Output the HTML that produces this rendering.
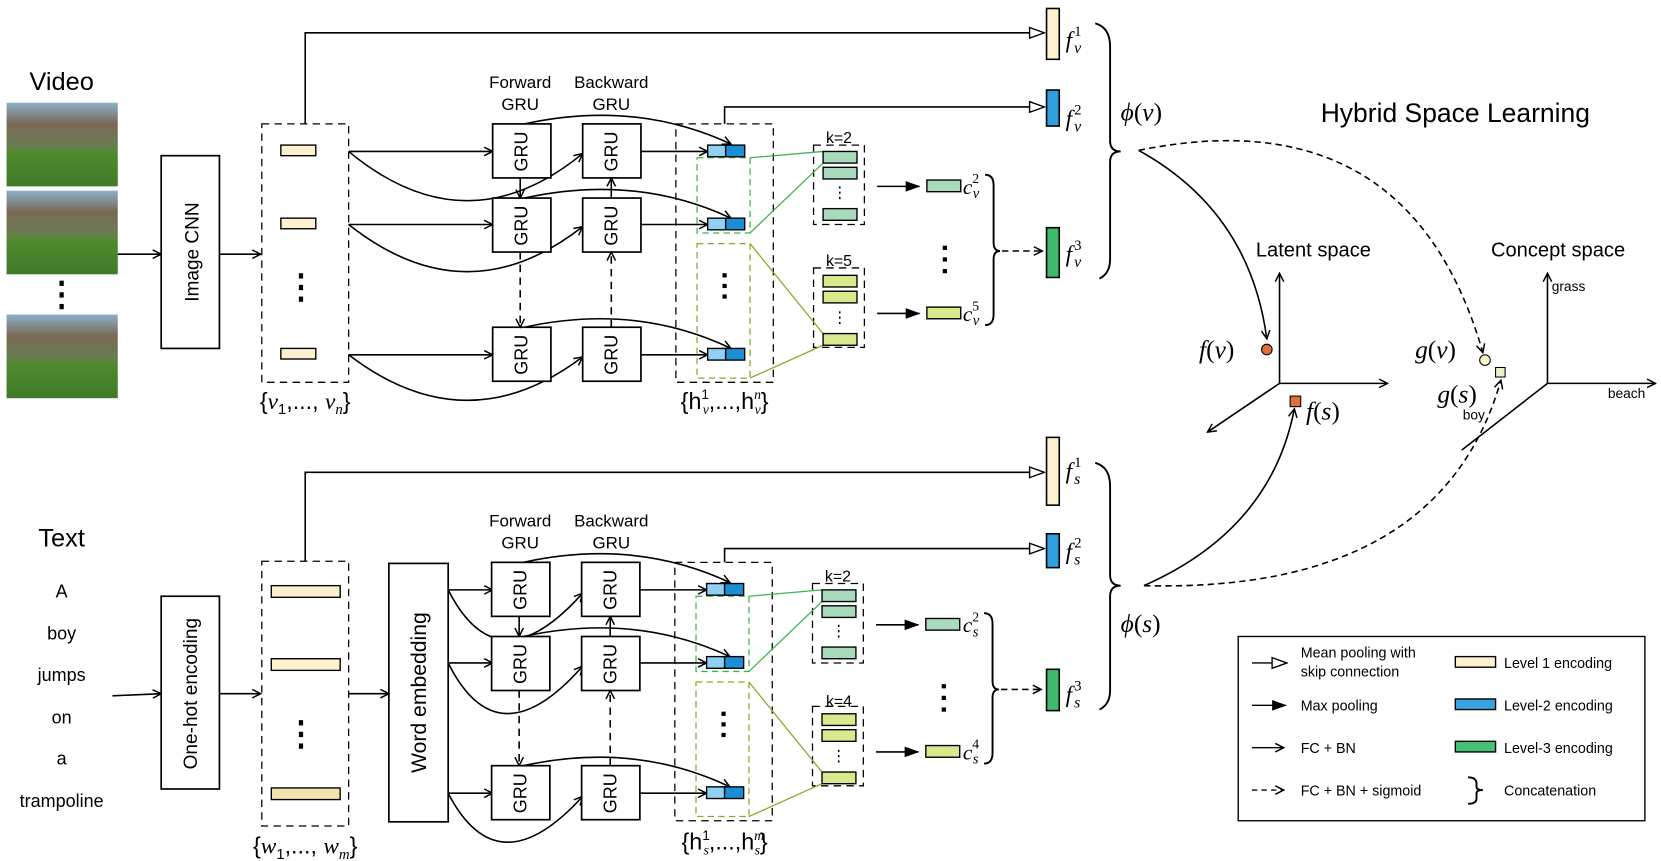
<!DOCTYPE html>
<html><head><meta charset="utf-8"><style>
html,body{margin:0;padding:0;background:#fff;}
svg{display:block;}
text{font-family:"Liberation Sans",sans-serif;fill:#000;}
.m{font-family:"Liberation Serif",serif;font-style:italic;}
</style></head><body>
<svg width="1661" height="861" viewBox="0 0 1568 813" xmlns="http://www.w3.org/2000/svg">
<defs>
<marker id="hol" markerWidth="16" markerHeight="12" refX="14" refY="6" orient="auto" markerUnits="userSpaceOnUse"><path d="M1,1 L15,6 L1,11 z" fill="#fff" stroke="#000" stroke-width="1.3"/></marker>
<marker id="sol" markerWidth="14" markerHeight="12" refX="13" refY="6" orient="auto" markerUnits="userSpaceOnUse"><path d="M0,1 L14,6 L0,11 z" fill="#000"/></marker>
<marker id="opn" markerWidth="10" markerHeight="10" refX="9" refY="5" orient="auto" markerUnits="userSpaceOnUse"><path d="M1,1 L9,5 L1,9" fill="none" stroke="#000" stroke-width="1.4"/></marker>
<linearGradient id="img" x1="0" y1="0" x2="0" y2="1"><stop offset="0" stop-color="#8bb0c8"/><stop offset="0.25" stop-color="#7a6a58"/><stop offset="0.5" stop-color="#6b7a50"/><stop offset="0.6" stop-color="#4e8a2e"/><stop offset="1" stop-color="#3f7a28"/></linearGradient>
<g id="gru">
 <g fill="#fff" stroke="#000" stroke-width="1.6">
  <rect x="465" y="117" width="55" height="51"/><rect x="550" y="117" width="55" height="51"/>
  <rect x="465" y="187" width="55" height="51"/><rect x="550" y="187" width="55" height="51"/>
  <rect x="465" y="309" width="55" height="51"/><rect x="550" y="309" width="55" height="51"/>
 </g>
 <g font-size="17" text-anchor="middle">
  <text transform="translate(498,143) rotate(-90)">GRU</text><text transform="translate(583,143) rotate(-90)">GRU</text>
  <text transform="translate(498,213) rotate(-90)">GRU</text><text transform="translate(583,213) rotate(-90)">GRU</text>
  <text transform="translate(498,335) rotate(-90)">GRU</text><text transform="translate(583,335) rotate(-90)">GRU</text>
 </g>
 <g fill="none" stroke="#000" stroke-width="1.5">
  <line x1="491" y1="168" x2="491" y2="187" marker-end="url(#opn)"/>
  <line x1="491" y1="238" x2="491" y2="309" stroke-dasharray="7,5" marker-end="url(#opn)"/>
  <line x1="577" y1="187" x2="577" y2="168" marker-end="url(#opn)"/>
  <line x1="577" y1="309" x2="577" y2="238" stroke-dasharray="7,5" marker-end="url(#opn)"/>
  <line x1="605" y1="143" x2="668" y2="143" marker-end="url(#opn)"/>
  <line x1="605" y1="212" x2="668" y2="212" marker-end="url(#opn)"/>
  <line x1="605" y1="335" x2="668" y2="335" marker-end="url(#opn)"/>
  <path d="M495,117 Q600,94 690,136" marker-end="url(#opn)"/>
  <path d="M495,187 Q600,164 690,206" marker-end="url(#opn)"/>
  <path d="M495,309 Q600,286 690,329" marker-end="url(#opn)"/>
  <rect x="638" y="117" width="92" height="244" stroke-dasharray="7,5" stroke-width="1.2"/>
  <rect x="768" y="137" width="48" height="75" stroke-dasharray="7,5" stroke-width="1.2"/>
  <rect x="768" y="253" width="48" height="75" stroke-dasharray="7,5" stroke-width="1.2"/>
  <line x1="828" y1="176" x2="868" y2="176" marker-end="url(#sol)"/>
  <line x1="828" y1="296" x2="868" y2="296" marker-end="url(#sol)"/>
  <path d="M930,165 Q938,165 938,175 L938,229 Q938,237 944,237 Q938,237 938,245 L938,297 Q938,307 930,307" stroke-width="1.8"/>
  <line x1="946" y1="237" x2="984" y2="237" stroke-dasharray="6,4" marker-end="url(#opn)"/>
  <rect x="658" y="149" width="50" height="71" stroke="#3cb44b" stroke-dasharray="6,4" stroke-width="1.2"/>
  <rect x="658" y="230" width="50" height="127" stroke="#8aa82a" stroke-dasharray="6,4" stroke-width="1.2"/>
  <line x1="708" y1="149" x2="777" y2="143" stroke="#3cb44b" stroke-width="1.2"/>
  <line x1="708" y1="220" x2="777" y2="154" stroke="#3cb44b" stroke-width="1.2"/>
  <line x1="708" y1="230" x2="777" y2="315" stroke="#8aa82a" stroke-width="1.2"/>
  <line x1="708" y1="357" x2="777" y2="326" stroke="#8aa82a" stroke-width="1.2"/>
 </g>
 <g stroke="#000" stroke-width="1.3">
  <rect x="668" y="137" width="17" height="11" fill="#8fd0f3"/><rect x="685" y="137" width="18" height="11" fill="#1b8fd6"/>
  <rect x="668" y="206" width="17" height="11" fill="#8fd0f3"/><rect x="685" y="206" width="18" height="11" fill="#1b8fd6"/>
  <rect x="668" y="329" width="17" height="11" fill="#8fd0f3"/><rect x="685" y="329" width="18" height="11" fill="#1b8fd6"/>
  <rect x="777" y="143" width="32" height="11" fill="#a8dbbd"/><rect x="777" y="158" width="32" height="11" fill="#a8dbbd"/><rect x="777" y="197" width="32" height="11" fill="#a8dbbd"/>
  <rect x="777" y="260" width="32" height="11" fill="#d7ea8e"/><rect x="777" y="275" width="32" height="11" fill="#d7ea8e"/><rect x="777" y="315" width="32" height="11" fill="#d7ea8e"/>
  <rect x="875" y="170" width="32" height="11" fill="#a8dbbd"/><rect x="875" y="290" width="32" height="11" fill="#d7ea8e"/>
 </g>
 <g fill="#000">
  <rect x="682" y="258" width="4" height="4"/><rect x="682" y="268" width="4" height="4"/><rect x="682" y="278" width="4" height="4"/>
  <rect x="890" y="232" width="4" height="4"/><rect x="890" y="243" width="4" height="4"/><rect x="890" y="254" width="4" height="4"/>
  <rect x="792" y="176" width="1.5" height="2"/><rect x="792" y="181" width="1.5" height="2"/><rect x="792" y="186" width="1.5" height="2"/>
  <rect x="792" y="294" width="1.5" height="2"/><rect x="792" y="299" width="1.5" height="2"/><rect x="792" y="304" width="1.5" height="2"/>
 </g>
 <text x="792" y="135" font-size="15" text-anchor="middle">k=2</text>
</g>
</defs>

<text x="58" y="85" font-size="24" text-anchor="middle">Video</text>
<rect x="6" y="97" width="105" height="79" fill="url(#img)"/>
<rect x="6" y="180" width="105" height="79" fill="url(#img)"/>
<rect x="6" y="297" width="105" height="79" fill="url(#img)"/>
<rect x="56" y="265" width="4" height="5"/><rect x="56" y="276" width="4" height="5"/><rect x="56" y="287" width="4" height="5"/>
<g fill="none" stroke="#000" stroke-width="1.5">
 <line x1="111" y1="240" x2="152" y2="240" marker-end="url(#opn)"/>
 <rect x="152" y="147" width="55" height="182" stroke-width="1.6"/>
 <line x1="207" y1="240" x2="246" y2="240" marker-end="url(#opn)"/>
 <rect x="247" y="117" width="82" height="244" stroke-dasharray="7,5" stroke-width="1.2"/>
 <polyline points="288,117 288,31 985,31" marker-end="url(#hol)"/>
 <polyline points="684,117 684,101 985,101" marker-end="url(#hol)"/>
 <line x1="329" y1="143" x2="465" y2="143" marker-end="url(#opn)"/>
 <line x1="329" y1="212" x2="465" y2="212" marker-end="url(#opn)"/>
 <line x1="329" y1="335" x2="465" y2="335" marker-end="url(#opn)"/>
 <path d="M329,143 Q440,235 550,145" marker-end="url(#opn)"/>
 <path d="M329,212 Q440,300 550,214" marker-end="url(#opn)"/>
 <path d="M329,335 Q440,420 550,337" marker-end="url(#opn)"/>
</g>
<text transform="translate(187,238) rotate(-90)" font-size="18" text-anchor="middle">Image CNN</text>
<g stroke="#000" stroke-width="1.3" fill="#fdf1d0">
 <rect x="265" y="137" width="33" height="10"/><rect x="265" y="206" width="33" height="10"/><rect x="265" y="329" width="33" height="10"/>
</g>
<rect x="282" y="258" width="4" height="5"/><rect x="282" y="269" width="4" height="5"/><rect x="282" y="280" width="4" height="5"/>
<text x="288" y="386" font-size="22" text-anchor="middle" font-family="Liberation Serif">{<tspan class="m">v</tspan><tspan font-size="14" dy="5">1</tspan><tspan dy="-5">,..., </tspan><tspan class="m">v</tspan><tspan class="m" font-size="14" dy="5">n</tspan><tspan dy="-5">}</tspan></text>
<text x="491" y="83" font-size="16" text-anchor="middle">Forward</text><text x="491" y="104" font-size="16" text-anchor="middle">GRU</text>
<text x="577" y="83" font-size="16" text-anchor="middle">Backward</text><text x="577" y="104" font-size="16" text-anchor="middle">GRU</text>
<use href="#gru"/>
<text x="792" y="251" font-size="15" text-anchor="middle">k=5</text>
<text x="684" y="386" font-size="22" text-anchor="middle" font-family="Liberation Serif">{h<tspan font-size="13" dy="-9">1</tspan><tspan class="m" font-size="13" dx="-6" dy="14">v</tspan><tspan dy="-5">,...,h</tspan><tspan class="m" font-size="13" dy="-9">n</tspan><tspan class="m" font-size="13" dx="-6" dy="14">v</tspan><tspan dy="-5">}</tspan></text>
<text x="909" y="183" font-size="20" class="m">c<tspan font-size="13" dy="-10" style="font-style:normal">2</tspan><tspan font-size="14" dx="-6" dy="14">v</tspan></text>
<text x="909" y="303" font-size="20" class="m">c<tspan font-size="13" dy="-10" style="font-style:normal">5</tspan><tspan font-size="14" dx="-6" dy="14">v</tspan></text>
<g stroke="#000" stroke-width="1.5">
 <rect x="988" y="8" width="12" height="48" fill="#fdf1d0"/>
 <rect x="988" y="85" width="12" height="34" fill="#2f9fe0"/>
 <rect x="988" y="215" width="12" height="47" fill="#3dba6e"/>
</g>
<text x="1006" y="45" font-size="22" class="m">f<tspan font-size="14" dx="2" dy="-11" style="font-style:normal">1</tspan><tspan font-size="15" dx="-7" dy="16">v</tspan></text>
<text x="1006" y="119" font-size="22" class="m">f<tspan font-size="14" dx="2" dy="-11" style="font-style:normal">2</tspan><tspan font-size="15" dx="-7" dy="16">v</tspan></text>
<text x="1006" y="247" font-size="22" class="m">f<tspan font-size="14" dx="2" dy="-11" style="font-style:normal">3</tspan><tspan font-size="15" dx="-7" dy="16">v</tspan></text>
<path d="M1034,22 Q1048,26 1048,44 L1048,133 Q1048,143 1058,143 Q1048,143 1048,153 L1048,245 Q1048,258 1038,263" fill="none" stroke="#000" stroke-width="1.8"/>
<text x="1058" y="114" font-size="24" class="m">ϕ<tspan style="font-style:normal">(</tspan>v<tspan style="font-style:normal">)</tspan></text>
<text x="1374" y="115" font-size="25" text-anchor="middle">Hybrid Space Learning</text>

<text x="1240" y="242" font-size="19" text-anchor="middle">Latent space</text>
<text x="1471" y="242" font-size="19" text-anchor="middle">Concept space</text>
<g fill="none" stroke="#000" stroke-width="1.5">
 <line x1="1208" y1="362" x2="1208" y2="258" marker-end="url(#opn)"/>
 <line x1="1208" y1="362" x2="1310" y2="362" marker-end="url(#opn)"/>
 <line x1="1208" y1="362" x2="1140" y2="408" marker-end="url(#opn)"/>
 <line x1="1461" y1="362" x2="1461" y2="258" marker-end="url(#opn)"/>
 <line x1="1461" y1="362" x2="1563" y2="362" marker-end="url(#opn)"/>
 <line x1="1461" y1="362" x2="1380" y2="425"/>
 <path d="M1075,142 Q1180,200 1196,320" marker-end="url(#opn)"/>
 <path d="M1075,142 Q1330,90 1400,333" stroke-dasharray="6,4" marker-end="url(#opn)"/>
 <path d="M1080,553 Q1200,500 1222,386" marker-end="url(#opn)"/>
 <path d="M1080,553 Q1360,560 1417,359" stroke-dasharray="6,4" marker-end="url(#opn)"/>
</g>
<circle cx="1196" cy="330" r="5" fill="#e0703a" stroke="#000" stroke-width="1"/>
<rect x="1218" y="374" width="10" height="10" fill="#e0703a" stroke="#000" stroke-width="1"/>
<circle cx="1402" cy="340" r="5" fill="#f6f6c8" stroke="#000" stroke-width="1"/>
<rect x="1412" y="347" width="9" height="9" fill="#eaf3c8" stroke="#000" stroke-width="1"/>
<text x="1132" y="338" font-size="24" class="m">f<tspan style="font-style:normal">(</tspan>v<tspan style="font-style:normal">)</tspan></text>
<text x="1233" y="396" font-size="24" class="m">f<tspan style="font-style:normal">(</tspan>s<tspan style="font-style:normal">)</tspan></text>
<text x="1336" y="338" font-size="24" class="m">g<tspan style="font-style:normal">(</tspan>v<tspan style="font-style:normal">)</tspan></text>
<text x="1357" y="380" font-size="24" class="m">g<tspan style="font-style:normal">(</tspan>s<tspan style="font-style:normal">)</tspan></text>
<text x="1465" y="275" font-size="13">grass</text>
<text x="1518" y="376" font-size="13">beach</text>
<text x="1381" y="396" font-size="13">boy</text>

<text x="58" y="516" font-size="24" text-anchor="middle">Text</text>
<g font-size="17" text-anchor="middle">
 <text x="58" y="564">A</text><text x="58" y="604">boy</text><text x="58" y="643">jumps</text>
 <text x="58" y="683">on</text><text x="58" y="722">a</text><text x="58" y="762">trampoline</text>
</g>
<g fill="none" stroke="#000" stroke-width="1.5">
 <line x1="106" y1="657" x2="152" y2="655" marker-end="url(#opn)"/>
 <rect x="152" y="563" width="55" height="182" stroke-width="1.6"/>
 <line x1="207" y1="655" x2="246" y2="655" marker-end="url(#opn)"/>
 <rect x="247" y="530" width="82" height="250" stroke-dasharray="7,5" stroke-width="1.2"/>
 <line x1="329" y1="655" x2="367" y2="655" marker-end="url(#opn)"/>
 <rect x="367" y="532" width="56" height="244" stroke-width="1.6"/>
 <polyline points="288,530 288,446 985,446" marker-end="url(#hol)"/>
 <polyline points="684,531 684,518 985,518" marker-end="url(#hol)"/>
 <line x1="423" y1="557" x2="465" y2="557" marker-end="url(#opn)"/>
 <line x1="423" y1="626" x2="465" y2="626" marker-end="url(#opn)"/>
 <line x1="423" y1="749" x2="465" y2="749" marker-end="url(#opn)"/>
 <path d="M423,557 Q470,650 550,560" marker-end="url(#opn)"/>
 <path d="M423,626 Q470,720 550,629" marker-end="url(#opn)"/>
 <path d="M423,749 Q470,840 550,752" marker-end="url(#opn)"/>
</g>
<text transform="translate(186,655) rotate(-90)" font-size="18" text-anchor="middle">One-hot encoding</text>
<text transform="translate(402,654) rotate(-90)" font-size="20" text-anchor="middle">Word embedding</text>
<g stroke="#000" stroke-width="1.3" fill="#fdf1d0">
 <rect x="256" y="553" width="65" height="11"/><rect x="256" y="622" width="65" height="11"/><rect x="256" y="744" width="65" height="11" fill="#f3e2b0"/>
</g>
<rect x="282" y="680" width="4" height="5"/><rect x="282" y="691" width="4" height="5"/><rect x="282" y="702" width="4" height="5"/>
<text x="288" y="806" font-size="22" text-anchor="middle" font-family="Liberation Serif">{<tspan class="m">w</tspan><tspan font-size="14" dy="5">1</tspan><tspan dy="-5">,..., </tspan><tspan class="m">w</tspan><tspan class="m" font-size="14" dy="5">m</tspan><tspan dy="-5">}</tspan></text>
<text x="491" y="497" font-size="16" text-anchor="middle">Forward</text><text x="491" y="518" font-size="16" text-anchor="middle">GRU</text>
<text x="577" y="497" font-size="16" text-anchor="middle">Backward</text><text x="577" y="518" font-size="16" text-anchor="middle">GRU</text>
<use href="#gru" transform="translate(-1,414)"/>
<text x="792" y="667" font-size="15" text-anchor="middle">k=4</text>
<text x="684" y="802" font-size="22" text-anchor="middle" font-family="Liberation Serif">{h<tspan font-size="13" dy="-9">1</tspan><tspan class="m" font-size="13" dx="-6" dy="14">s</tspan><tspan dy="-5">,...,h</tspan><tspan class="m" font-size="13" dy="-9">m</tspan><tspan class="m" font-size="13" dx="-9" dy="14">s</tspan><tspan dy="-5">}</tspan></text>
<text x="909" y="597" font-size="20" class="m">c<tspan font-size="13" dy="-10" style="font-style:normal">2</tspan><tspan font-size="14" dx="-6" dy="14">s</tspan></text>
<text x="909" y="717" font-size="20" class="m">c<tspan font-size="13" dy="-10" style="font-style:normal">4</tspan><tspan font-size="14" dx="-6" dy="14">s</tspan></text>
<g stroke="#000" stroke-width="1.5">
 <rect x="988" y="413" width="12" height="64" fill="#fdf1d0"/>
 <rect x="988" y="504" width="12" height="32" fill="#2f9fe0"/>
 <rect x="988" y="632" width="12" height="39" fill="#3dba6e"/>
</g>
<text x="1006" y="452" font-size="22" class="m">f<tspan font-size="14" dx="2" dy="-11" style="font-style:normal">1</tspan><tspan font-size="15" dx="-7" dy="16">s</tspan></text>
<text x="1006" y="528" font-size="22" class="m">f<tspan font-size="14" dx="2" dy="-11" style="font-style:normal">2</tspan><tspan font-size="15" dx="-7" dy="16">s</tspan></text>
<text x="1006" y="663" font-size="22" class="m">f<tspan font-size="14" dx="2" dy="-11" style="font-style:normal">3</tspan><tspan font-size="15" dx="-7" dy="16">s</tspan></text>
<path d="M1034,437 Q1048,441 1048,459 L1048,543 Q1048,553 1058,553 Q1048,553 1048,563 L1048,652 Q1048,665 1038,670" fill="none" stroke="#000" stroke-width="1.8"/>
<text x="1058" y="597" font-size="24" class="m">ϕ<tspan style="font-style:normal">(</tspan>s<tspan style="font-style:normal">)</tspan></text>

<rect x="1169" y="601" width="384" height="174" fill="#fff" stroke="#000" stroke-width="1.3"/>
<g fill="none" stroke="#000" stroke-width="1.3">
 <line x1="1182" y1="626" x2="1214" y2="626" marker-end="url(#hol)"/>
 <line x1="1182" y1="666" x2="1214" y2="666" marker-end="url(#sol)"/>
 <line x1="1182" y1="706" x2="1212" y2="706" marker-end="url(#opn)"/>
 <line x1="1182" y1="746" x2="1212" y2="746" stroke-dasharray="5,4" marker-end="url(#opn)"/>
 <path d="M1386,734 Q1394,734 1394,740 L1394,743 Q1394,746 1400,746 Q1394,746 1394,749 L1394,754 Q1394,759 1386,759" stroke-width="1.8"/>
</g>
<g stroke="#000" stroke-width="1.3">
 <rect x="1374" y="620" width="38" height="10" fill="#fdf1d0"/>
 <rect x="1374" y="660" width="38" height="10" fill="#3aa4e3"/>
 <rect x="1374" y="700" width="38" height="10" fill="#48c07a"/>
</g>
<g font-size="13.5">
 <text x="1228" y="621">Mean pooling with</text><text x="1228" y="639">skip connection</text>
 <text x="1228" y="671">Max pooling</text>
 <text x="1228" y="711">FC + BN</text>
 <text x="1228" y="751">FC + BN + sigmoid</text>
 <text x="1420" y="631">Level 1 encoding</text>
 <text x="1420" y="671">Level-2 encoding</text>
 <text x="1420" y="711">Level-3 encoding</text>
 <text x="1420" y="751">Concatenation</text>
</g>
</svg>
</body></html>
